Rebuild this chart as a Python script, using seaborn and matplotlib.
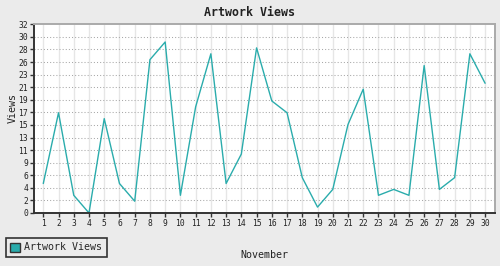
import numpy as np
import pandas as pd
import matplotlib
matplotlib.use("Agg")
import matplotlib.pyplot as plt
from matplotlib.patches import Patch
import seaborn as sns

days = list(range(1, 31))
views = [5, 17, 3, 0, 16, 5, 2, 26, 29, 3,
         18, 27, 5, 10, 28, 19, 17, 6, 1, 4,
         15, 21, 3, 4, 3, 25, 4, 6, 27, 22]
ytick_labels = [0, 2, 4, 6, 9, 11, 13, 15, 17, 19, 21, 23, 26, 28, 30, 32]
series_name = "Artwork Views"
title = "Artwork Views"
xlabel = "November"
ylabel = "Views"

sns.set_theme(style="white")
plt.rcParams['font.family'] = ['DejaVu Sans Mono', 'DejaVu Sans']

bg = "#ebebeb"
teal = "#2aacac"
dark = "#333333"

df = pd.DataFrame({"day": days, "views": views})

fig = plt.figure(figsize=(5.0, 2.66), dpi=100, facecolor=bg)
ax = fig.add_axes([34.3 / 500, 53 / 266, (495 - 34.3) / 500, (213 - 24.3) / 266])
ax.set_facecolor("white")

sns.lineplot(data=df, x="day", y="views", ax=ax, color=teal, linewidth=1.0)

ax.set_xlim(0.41, 30.65)
ymax = ytick_labels[-1]
ax.set_ylim(0, ymax)
ax.set_xticks(days)
ax.set_xticklabels([str(d) for d in days], fontsize=5.8, color="#222222")
ypos = np.linspace(0, ymax, len(ytick_labels))
ax.set_yticks(ypos)
ax.set_yticklabels([str(v) for v in ytick_labels], fontsize=5.8, color="#222222")

ax.tick_params(axis="both", direction="out", length=3, width=1, color=dark, pad=1.5)
ax.tick_params(axis="x", bottom=True)
ax.tick_params(axis="y", left=True)

# grid
for d in days:
    ax.axvline(d, color="#e6e6e6", lw=1.0, zorder=0)
for y in ypos[1:-1]:
    ax.axhline(y, color="#a8a8a8", lw=0.75, ls=(0, (1, 2.0)), zorder=0)

for side in ["left", "bottom"]:
    ax.spines[side].set_color(dark)
    ax.spines[side].set_linewidth(1.4)
for side in ["top", "right"]:
    ax.spines[side].set_color("#aaaaaa")
    ax.spines[side].set_linewidth(1.4)

ax.set_xlabel("")
ax.set_ylabel("")
fig.text(12.5 / 500, 1 - 108 / 266, ylabel, rotation=90, ha="center", va="center",
         fontsize=7.2, color="#222222")
fig.text(264.5 / 500, 1 - 255 / 266, xlabel, ha="center", va="center",
         fontsize=7.2, color="#222222")
fig.text(249 / 500, 1 - 12 / 266, title, ha="center", va="center",
         fontsize=8.4, fontweight="bold", color="#222222")

handle = Patch(facecolor=teal, edgecolor=dark, linewidth=1.0, label=series_name)
leg = fig.legend(handles=[handle], loc="lower left",
                 bbox_to_anchor=(5.5 / 500, 9 / 266), borderaxespad=0,
                 fancybox=False, frameon=True, facecolor=bg, edgecolor=dark,
                 fontsize=7.2, handlelength=1.0, handleheight=1.0,
                 handletextpad=0.4, borderpad=0.45)
leg.get_frame().set_linewidth(1.2)
leg.get_frame().set_alpha(1)

fig.savefig("out.png", dpi=100, facecolor=bg)
